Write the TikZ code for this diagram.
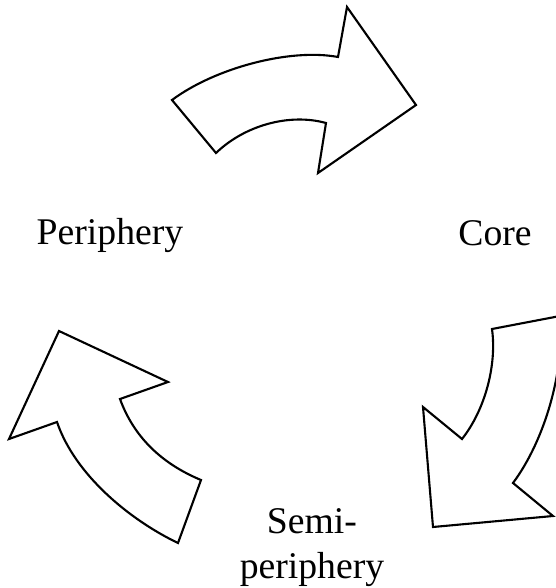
\documentclass[tikz,border=0pt]{standalone}
\usepackage{fontspec}
\setmainfont{Liberation Serif}
\usepackage{tikz}

\tikzset{
  bentarrow/.style={draw=black, fill=white, line width=1.5pt, line join=miter},
  zone/.style={font=\fontsize{26.8}{31.3}\selectfont, inner sep=0pt, align=center}
}

\begin{document}
\begin{tikzpicture}[x=0.025cm, y=-0.025cm]
\useasboundingbox (0,0) rectangle (556,588);
\clip (0,0) rectangle (556,588);
%\draw[step=50,gray,very thin] (0,0) grid (556,588);
% top arrow
\draw[bentarrow] (172,100) .. controls (215,68) and (290,48) .. (338,57) -- (347,7) -- (416,105) -- (318,173) -- (326,123) .. controls (290,113) and (245,125) .. (216,153) -- cycle;
% right arrow
\draw[bentarrow] (492,329) -- (560,316) .. controls (565,370) and (545,440) .. (513,483) -- (553,516) -- (433,527) -- (423,407) -- (462,439) .. controls (485,410) and (497,365) .. (492,329) -- cycle;
% left arrow
\draw[bentarrow] (59,331) -- (168,382) -- (120,399) .. controls (135,440) and (165,465) .. (201,480) -- (178,543) .. controls (130,520) and (75,475) .. (57,422) -- (9,439) -- cycle;
\node[zone, anchor=base] (periphery) at (110,244) {Periphery};
\node[zone, anchor=base] (core) at (495,245) {Core};
\node[zone, anchor=base] (semi) at (312,578) {Semi-\\periphery};
\end{tikzpicture}
\end{document}
